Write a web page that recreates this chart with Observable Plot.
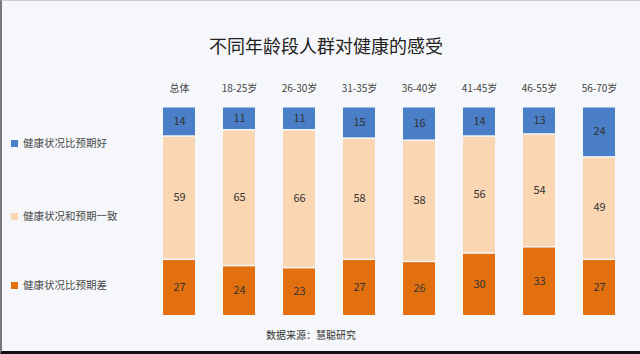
<!DOCTYPE html>
<html>
<head>
<meta charset="utf-8">
<script src="https://cdn.jsdelivr.net/npm/d3@7"></script>
<script src="https://cdn.jsdelivr.net/npm/@observablehq/plot@0.6"></script>
<style>
  html, body { margin: 0; padding: 0; background: #f6f7fa; }
  #wrap { position: relative; width: 640px; height: 354px; background: #f6f7fa; overflow: hidden;
          font-family: "Noto Sans CJK SC", "Noto Sans", sans-serif; box-sizing: border-box;
          border-left: 2px solid #777; border-top: 1px solid #ccc; border-bottom: 3px solid #111; }
  #chart { position: absolute; left: -2px; top: -1px; }
  #title { position: absolute; left: 0; width: 648px; top: 33px; text-align: center; font-size: 18px; color: #222; line-height: 22px; }
  #caption { position: absolute; left: 264px; top: 327px; font-size: 10px; color: #333; line-height: 14px; }
  .leg { position: absolute; left: 9px; font-size: 10.5px; color: #4a4a4a; line-height: 14px; display: flex; align-items: center; }
  .leg span.sw { display: inline-block; width: 7px; height: 7px; margin-right: 5px; }
</style>
</head>
<body>
<div id="wrap">
  <div id="chart"></div>
  <div id="title"></div>
  <div id="legend"></div>
  <div id="caption"></div>
</div>
<script>
const titleText = "不同年龄段人群对健康的感受";
const captionText = "数据来源：慧聪研究";
const categories = ["总体", "18-25岁", "26-30岁", "31-35岁", "36-40岁", "41-45岁", "46-55岁", "56-70岁"];
const seriesNames = ["健康状况比预期好", "健康状况和预期一致", "健康状况比预期差"];
const better = [14, 11, 11, 15, 16, 14, 13, 24];
const same = [59, 65, 66, 58, 58, 56, 54, 49];
const worse = [27, 24, 23, 27, 26, 30, 33, 27];
const colors = ["#4a7ec6", "#fad6b3", "#e3700e"];
const legendY = [143, 216, 285];

const table = [];
categories.forEach((c, i) => {
  table.push({category: c, series: seriesNames[2], value: worse[i]});
  table.push({category: c, series: seriesNames[1], value: same[i]});
  table.push({category: c, series: seriesNames[0], value: better[i]});
});

document.getElementById("title").textContent = titleText;
document.getElementById("caption").textContent = captionText;
const leg = document.getElementById("legend");
seriesNames.forEach((s, i) => {
  const d = document.createElement("div");
  d.className = "leg";
  d.style.top = (legendY[i] - 8) + "px";
  d.innerHTML = `<span class="sw" style="background:${colors[i]}"></span>${s}`;
  leg.appendChild(d);
});

const order = [seriesNames[2], seriesNames[1], seriesNames[0]];
const chart = Plot.plot({
  width: 640,
  height: 354,
  marginTop: 106,
  marginBottom: 39,
  marginLeft: 147,
  marginRight: 9,
  style: {background: "transparent", fontFamily: "Noto Sans CJK SC, Noto Sans, sans-serif"},
  x: {domain: categories, paddingInner: 0.46, paddingOuter: 0.2, axis: null},
  y: {domain: [0, 100], axis: null},
  color: {domain: seriesNames, range: colors},
  marks: [
    Plot.axisX({anchor: "top", tickSize: 0, tickPadding: 15, fontSize: 10, color: "#444", label: null}),
    Plot.barY(table, Plot.stackY({x: "category", y: "value", z: "series", fill: "series", order, insetTop: 1.5})),
    Plot.text(table, Plot.stackY({x: "category", y: "value", z: "series", order, text: "value", fontSize: 11, fill: "#333"}))
  ]
});
document.getElementById("chart").appendChild(chart);
</script>
</body>
</html>
